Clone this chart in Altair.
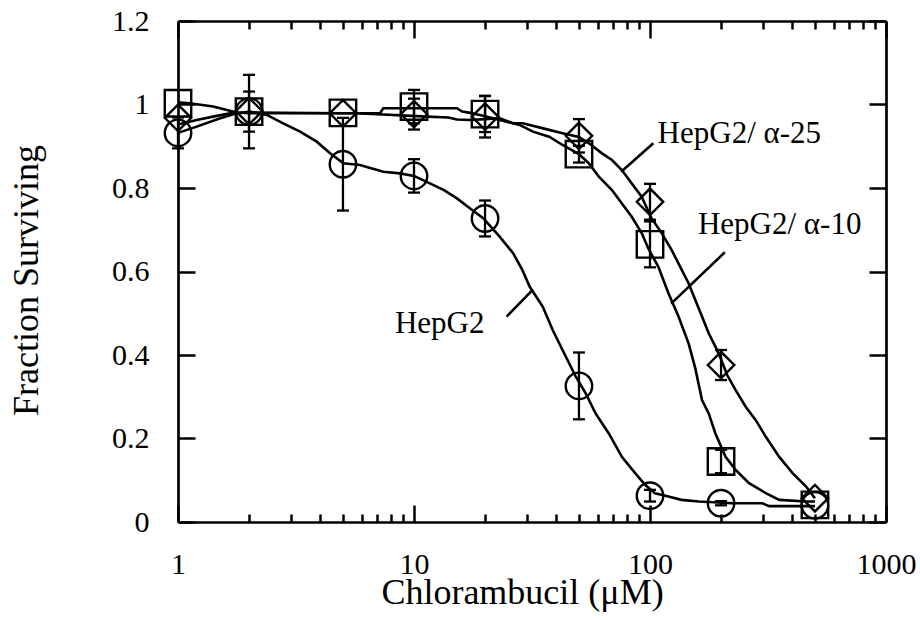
import altair as alt
import pandas as pd

# ---------------- data ----------------
conc = [1, 2, 5, 10, 20, 50, 100, 200, 500]

series_names = ["HepG2", "HepG2/ α-10", "HepG2/ α-25"]

# measured points (markers)
hep_y = [0.932, 0.983, 0.857, 0.829, 0.727, 0.326, 0.063, 0.045, 0.040]
hep_err = [0.037, 0.088, 0.111, 0.040, 0.043, 0.080, 0.014, 0.005, 0.0]
a10_y = [1.003, 0.983, 0.980, 0.995, 0.977, 0.881, 0.665, 0.145, 0.041]
a10_err = [0.0, 0.048, 0.0, 0.040, 0.043, 0.020, 0.055, 0.028, 0.0]
a25_y = [0.968, 0.984, 0.979, 0.977, 0.971, 0.925, 0.767, 0.376, 0.057]
a25_err = [0.0, 0.0, 0.0, 0.037, 0.050, 0.040, 0.043, 0.036, 0.0]

# traced fitted curves
hep_cx = [1, 1.2, 1.51, 1.77, 2.02, 2.38, 2.79, 3.29, 3.87, 4.41, 5.02, 5.9, 7.41, 8.72, 10,
          12.1, 13.4, 15.2, 17.3, 19.7, 23.1, 26.3, 28.7, 30.9, 35.1, 38.7, 42.6, 48.5, 53.4,
          58.8, 66.9, 76.0, 86.5, 95.3, 105, 119.7, 136, 161, 223, 299, 320, 430, 500]
hep_cy = [0.932, 0.947, 0.967, 0.979, 0.983, 0.975, 0.955, 0.935, 0.911, 0.883, 0.859, 0.855,
          0.839, 0.835, 0.829, 0.807, 0.795, 0.775, 0.751, 0.727, 0.683, 0.644, 0.605, 0.564,
          0.516, 0.460, 0.412, 0.348, 0.308, 0.260, 0.212, 0.156, 0.117, 0.089, 0.069, 0.061,
          0.053, 0.049, 0.045, 0.045, 0.038, 0.038, 0.038]

a10_cx = [1, 1.12, 1.41, 1.61, 1.77, 2, 5, 5.72, 7.18, 7.41, 8.72, 11.4, 15.2, 16.0, 17.3, 20,
          23.1, 28.0, 31.9, 37.4, 42.6, 50, 55.1, 60.7, 69.0, 76.0, 83.7, 92.2, 98.4, 108.5,
          119.7, 132.1, 145.7, 155.6, 166.1, 177.3, 189.3, 209, 230.6, 262.8, 309.6, 352.9,
          458.6, 500]
a10_cy = [1.005, 1.003, 0.995, 0.987, 0.981, 0.979, 0.979, 0.979, 0.979, 0.991, 0.991, 0.991,
          0.991, 0.983, 0.980, 0.972, 0.963, 0.951, 0.935, 0.923, 0.903, 0.881, 0.859, 0.827,
          0.795, 0.763, 0.731, 0.692, 0.655, 0.611, 0.548, 0.492, 0.428, 0.368, 0.292, 0.260,
          0.212, 0.156, 0.125, 0.093, 0.069, 0.053, 0.049, 0.049]

a25_cx = [1, 1.2, 1.41, 1.66, 2, 5, 5.72, 11.4, 14.0, 15.2, 17.3, 20, 23.1, 26.3, 28.9, 36.3,
          42.6, 50, 55.1, 62.6, 69.0, 76.0, 83.7, 92.2, 101.6, 112.1, 123.6, 134.3, 145.7,
          155.6, 166.1, 177.3, 189.3, 200, 212.3, 230.6, 254.4, 280.6, 309.6, 352.9, 401.8,
          458.6, 500]
a25_cy = [0.952, 0.963, 0.971, 0.979, 0.981, 0.979, 0.979, 0.971, 0.969, 0.964, 0.963, 0.965,
          0.967, 0.955, 0.955, 0.941, 0.931, 0.922, 0.907, 0.883, 0.867, 0.843, 0.811, 0.779,
          0.727, 0.692, 0.651, 0.611, 0.572, 0.532, 0.492, 0.452, 0.420, 0.390, 0.352, 0.316,
          0.276, 0.244, 0.204, 0.156, 0.117, 0.085, 0.057]

# annotation labels and leader lines
label_text = ["HepG2/ α-25", "HepG2/ α-10", "HepG2"]
label_x = [107.7, 159.6, 8.30]
label_y = [0.908, 0.690, 0.452]
leader_x = [[103.3, 75.5], [207.5, 122.9], [24.7, 31.6]]
leader_y = [[0.907, 0.839], [0.646, 0.523], [0.492, 0.554]]

# axis tick values
major_x = [1, 10, 100, 1000]
minor_x = [2, 3, 4, 5, 6, 7, 8, 9, 20, 30, 40, 50, 60, 70, 80, 90,
           200, 300, 400, 500, 600, 700, 800, 900]
y_ticks = [0, 0.2, 0.4, 0.6, 0.8, 1, 1.2]

# ---------------- tables ----------------
curve_rows = []
for name, xs, ys in zip(series_names, [hep_cx, a10_cx, a25_cx], [hep_cy, a10_cy, a25_cy]):
    for i, (xv, yv) in enumerate(zip(xs, ys)):
        curve_rows.append({"series": name, "x": xv, "y": yv, "i": i})
curves = pd.DataFrame(curve_rows)

pt_rows, err_rows, cap_rows = [], [], []
for name, ys, es in zip(series_names, [hep_y, a10_y, a25_y], [hep_err, a10_err, a25_err]):
    for xv, yv, ev in zip(conc, ys, es):
        pt_rows.append({"series": name, "x": xv, "y": yv})
        if ev > 0:
            err_rows.append({"series": name, "x": xv, "lo": yv - ev, "hi": yv + ev})
            cap_rows.append({"x": xv, "y": yv - ev})
            cap_rows.append({"x": xv, "y": yv + ev})
points = pd.DataFrame(pt_rows)
errs = pd.DataFrame(err_rows)
caps = pd.DataFrame(cap_rows)

labels = pd.DataFrame({"label": label_text, "x": label_x, "y": label_y})
lead_rows = []
for k, (xs, ys) in enumerate(zip(leader_x, leader_y)):
    for xv, yv in zip(xs, ys):
        lead_rows.append({"seg": k, "x": xv, "y": yv})
leaders = pd.DataFrame(lead_rows)

# ---------------- styling ----------------
FONT = "Liberation Serif"
W, H = 708, 501
xscale = alt.Scale(type="log", domain=[1, 1000], nice=False)
yscale = alt.Scale(domain=[0, 1.2], nice=False, zero=False)


def tick_axis(orient, offset, values, size, domain=False):
    return alt.Axis(orient=orient, offset=offset, values=values, tickSize=size,
                    tickWidth=2.5, tickColor="black", labels=False, domain=domain,
                    domainColor="black", domainWidth=2.7, title=None, grid=False)


x_main = alt.Axis(orient="bottom", values=major_x, format="d", ticks=False, tickSize=0,
                  labelPadding=27, labelFont=FONT, labelFontSize=30, labelColor="black",
                  labelFlush=False, labelOverlap=False, domain=True, domainColor="black",
                  domainWidth=2.7, grid=False, title="Chlorambucil (μM)", titleFont=FONT,
                  titleFontSize=36, titleFontWeight="normal", titleColor="black",
                  titleX=344, titleY=81, titleBaseline="alphabetic", titleAlign="center")
y_main = alt.Axis(orient="left", values=y_ticks, format="~g", ticks=False, tickSize=0,
                  labelPadding=29, labelFont=FONT, labelFontSize=30, labelColor="black",
                  labelFlush=False, labelOverlap=False, domain=True, domainColor="black",
                  domainWidth=2.7, grid=False, title="Fraction Surviving", titleFont=FONT,
                  titleFontSize=36, titleFontWeight="normal", titleColor="black",
                  titleX=-141, titleY=259, titleAngle=270, titleBaseline="alphabetic",
                  titleAlign="center")

lines = alt.Chart(curves).mark_line(color="black", strokeWidth=2.6).encode(
    x=alt.X("x:Q", scale=xscale, axis=x_main),
    y=alt.Y("y:Q", scale=yscale, axis=y_main),
    detail="series:N",
    order="i:Q",
)

rules = alt.Chart(errs).mark_rule(color="black", strokeWidth=2.3).encode(
    x=alt.X("x:Q", scale=xscale, axis=tick_axis("top", -H, major_x, 17)),
    y=alt.Y("lo:Q", scale=yscale, axis=tick_axis("right", -W, y_ticks, 17)),
    y2="hi:Q",
)

cap_marks = alt.Chart(caps).mark_tick(orient="horizontal", size=12, thickness=2.3,
                                      color="black", opacity=1).encode(
    x=alt.X("x:Q", scale=xscale, axis=tick_axis("top", -H, minor_x, 8)),
    y=alt.Y("y:Q", scale=yscale, axis=tick_axis("left", -W, y_ticks, 17, domain=True)),
)

pts = alt.Chart(points).mark_point(filled=False, color="black", strokeWidth=2.4,
                                   opacity=1, size=700).encode(
    x=alt.X("x:Q", scale=xscale, axis=tick_axis("bottom", -H, major_x, 17, domain=True)),
    y=alt.Y("y:Q", scale=yscale, axis=None),
    shape=alt.Shape("series:N", scale=alt.Scale(domain=series_names,
                                                range=["circle", "square", "diamond"]),
                    legend=None),
)

texts = alt.Chart(labels).mark_text(align="left", baseline="alphabetic", font=FONT,
                                    fontSize=31, color="black").encode(
    x=alt.X("x:Q", scale=xscale, axis=tick_axis("bottom", -H, minor_x, 8)),
    y=alt.Y("y:Q", scale=yscale, axis=None),
    text="label:N",
)

leads = alt.Chart(leaders).mark_line(color="black", strokeWidth=2.6).encode(
    x=alt.X("x:Q", scale=xscale, axis=None),
    y=alt.Y("y:Q", scale=yscale, axis=None),
    detail="seg:N",
)

chart = alt.layer(lines, rules, cap_marks, pts, texts, leads).resolve_axis(
    x="independent", y="independent"
).properties(
    width=W, height=H,
    autosize=alt.AutoSizeParams(type="none"),
    padding={"left": 178, "top": 21, "right": 34, "bottom": 98},
    background="white",
).configure_view(stroke=None)

chart.save("out.html", embed_options={"renderer": "svg", "actions": False})
